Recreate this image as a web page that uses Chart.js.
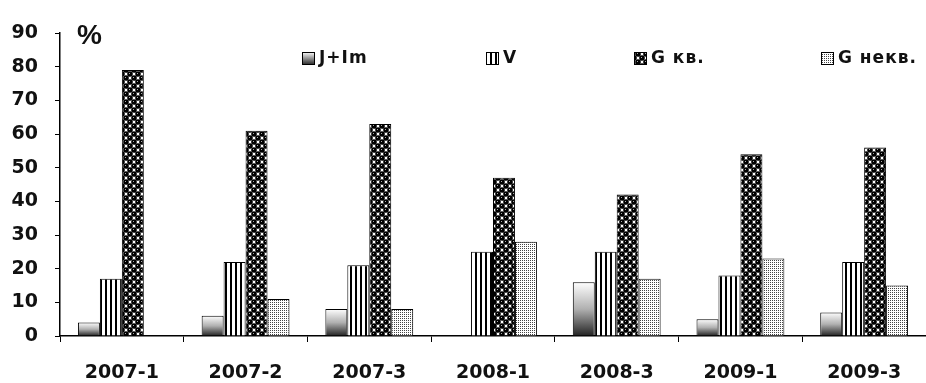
<!DOCTYPE html>
<html lang="ru">
<head>
    <meta charset="UTF-8">
    <title>Chart</title>
    <script src="https://cdn.jsdelivr.net/npm/chart.js"></script>
    <style>
        body { margin: 0; background: #ffffff; }
        #chart { display: block; }
    </style>
</head>
<body>
    <canvas id="chart" width="926" height="383"></canvas>
    <script>
        const categories = ["2007-1", "2007-2", "2007-3", "2008-1", "2008-3", "2009-1", "2009-3"];
        const seriesNames = ["J+Im", "V", "G кв.", "G некв."];
        const jIm = [4, 6, 8, 0, 16, 5, 7];
        const vValues = [17, 22, 21, 25, 25, 18, 22];
        const gKv = [79, 61, 63, 47, 42, 54, 56];
        const gNekv = [0, 11, 8, 28, 17, 23, 15];
        const yTicks = [0, 10, 20, 30, 40, 50, 60, 70, 80, 90];

        const FONT = "'DejaVu Sans', 'Liberation Sans', Arial, sans-serif";

        // small tiles for the hatch fills
        function makeTile(w, h, draw) {
            const c = document.createElement("canvas");
            c.width = w; c.height = h;
            draw(c.getContext("2d"));
            return document.createElement("canvas").getContext("2d").createPattern(c, "repeat");
        }

        const stripes = makeTile(5, 5, ctx => {
            ctx.fillStyle = "#fff"; ctx.fillRect(0, 0, 5, 5);
            ctx.fillStyle = "#000"; ctx.fillRect(0, 0, 2, 5);
        });

        const balls = makeTile(8, 8, ctx => {
            ctx.fillStyle = "#fff"; ctx.fillRect(0, 0, 8, 8);
            ctx.fillStyle = "#000";
            [[2, 2], [6, 6], [-2, 6], [6, -2], [2, 10], [10, 2]].forEach(p => {
                ctx.beginPath(); ctx.arc(p[0], p[1], 2.8, 0, Math.PI * 2); ctx.fill();
            });
            ctx.fillStyle = "#aaa";
            ctx.fillRect(1, 1, 1, 1); ctx.fillRect(5, 5, 1, 1);
        });

        const dots = makeTile(2, 2, ctx => {
            ctx.fillStyle = "#fff"; ctx.fillRect(0, 0, 2, 2);
            ctx.fillStyle = "#444"; ctx.fillRect(0, 0, 1, 1);
        });

        function shade(context) {
            const chart = context.chart;
            if (!chart.chartArea || context.type !== "data") return "#888";
            const y = chart.scales.y;
            const top = y.getPixelForValue(context.parsed.y);
            const base = y.getPixelForValue(0);
            if (base - top < 1) return "#888";
            const g = chart.ctx.createLinearGradient(0, top, 0, base);
            g.addColorStop(0, "#ffffff");
            g.addColorStop(0.5, "#b0b0b0");
            g.addColorStop(1, "#222222");
            return g;
        }

        function legendShade(ctx, y, s) {
            const g = ctx.createLinearGradient(0, y, 0, y + s);
            g.addColorStop(0, "#ffffff");
            g.addColorStop(1, "#333333");
            return g;
        }

        const fills = [shade, stripes, balls, dots];
        const legendX = [302, 486, 634, 821];

        const extras = {
            id: "extras",
            afterDraw(chart) {
                const ctx = chart.ctx;
                ctx.save();
                ctx.fillStyle = "#111";
                ctx.font = "bold 28px 'Liberation Sans', Arial, sans-serif";
                ctx.textBaseline = "alphabetic";
                ctx.fillText("%", 77, 44);

                ctx.font = "bold 17px " + FONT;
                ctx.letterSpacing = "1px";
                ctx.textBaseline = "middle";
                seriesNames.forEach((name, i) => {
                    const x = legendX[i], y = 52, s = 12;
                    ctx.fillStyle = i === 0 ? legendShade(ctx, y, s) : fills[i];
                    ctx.fillRect(x, y, s, s);
                    ctx.strokeStyle = "#000";
                    ctx.lineWidth = 1;
                    ctx.strokeRect(x + 0.5, y + 0.5, s, s);
                    ctx.fillStyle = "#111";
                    ctx.fillText(name, x + s + 5, y + s / 2 + 1);
                });
                ctx.restore();
            }
        };

        const seriesData = [jIm, vValues, gKv, gNekv];

        new Chart(document.getElementById("chart"), {
            type: "bar",
            data: {
                labels: categories,
                datasets: seriesData.map((d, i) => ({
                    label: seriesNames[i],
                    data: d,
                    backgroundColor: fills[i],
                    borderColor: "#000",
                    borderWidth: 1,
                    categoryPercentage: 0.71,
                    barPercentage: 1
                }))
            },
            options: {
                responsive: false,
                animation: false,
                layout: { padding: { top: 33, right: 0, left: 0, bottom: 0 } },
                plugins: {
                    legend: { display: false },
                    tooltip: { enabled: false }
                },
                scales: {
                    x: {
                        afterFit: s => { s.height = 47; },
                        grid: {
                            offset: true,
                            drawOnChartArea: false,
                            tickLength: 6,
                            color: "#000"
                        },
                        border: { color: "#000", width: 1.5 },
                        ticks: {
                            color: "#111",
                            padding: 20,
                            font: { family: FONT, size: 19, weight: "bold" }
                        }
                    },
                    y: {
                        min: 0,
                        max: 90,
                        afterFit: s => { s.width = 60; },
                        afterBuildTicks: s => { s.ticks = yTicks.map(v => ({ value: v })); },
                        grid: {
                            drawOnChartArea: false,
                            tickLength: 5,
                            color: "#000"
                        },
                        border: { color: "#000", width: 1.5 },
                        ticks: {
                            color: "#111",
                            padding: 17,
                            font: { family: FONT, size: 19, weight: "bold" }
                        }
                    }
                }
            },
            plugins: [extras]
        });
    </script>
</body>
</html>
